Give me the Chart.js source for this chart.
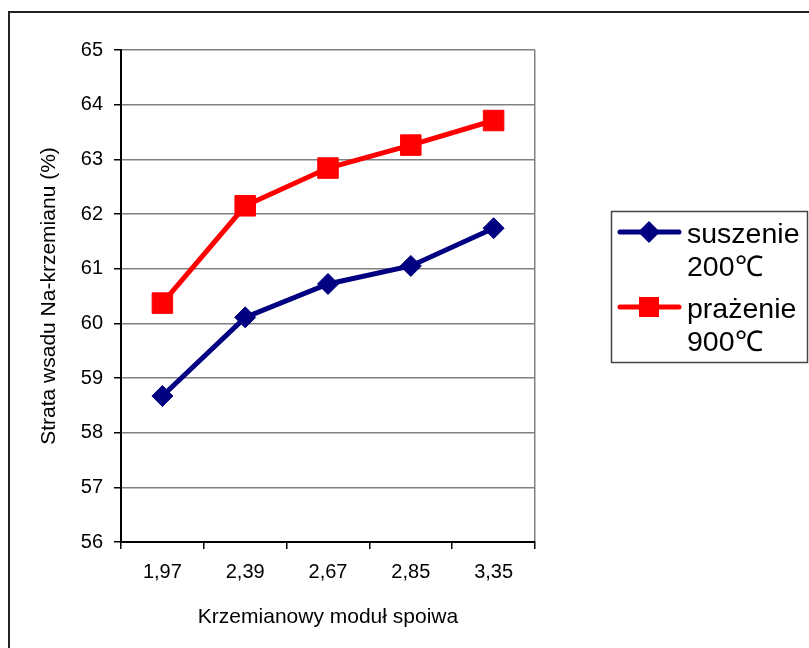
<!DOCTYPE html>
<html>
<head>
<meta charset="utf-8">
<script src="https://cdn.jsdelivr.net/npm/chart.js@4/dist/chart.umd.min.js"></script>
<style>
  html, body { margin: 0; padding: 0; background: #fff; }
  #wrap { width: 809px; height: 648px; position: relative; }
</style>
</head>
<body>
<div id="wrap"><canvas id="chart"></canvas></div>
<script>
// Chart data
const categories = ['1,97', '2,39', '2,67', '2,85', '3,35'];
const suszenie = [58.67, 60.11, 60.72, 61.05, 61.74];
const prazenie = [60.37, 62.15, 62.84, 63.26, 63.71];
const seriesLines = [['suszenie', '200\u2103'], ['prażenie', '900\u2103']];
const yMin = 56;
const yMax = 65;

const fontFamily = "'Liberation Sans', Arial, sans-serif";
const navy = '#000080';
const red = '#ff0000';
const gridGray = '#808080';

// outer frame, drawn before everything else
const framePlugin = {
  id: 'frame',
  beforeDraw(chart) {
    const ctx = chart.ctx;
    ctx.save();
    ctx.fillStyle = '#ffffff';
    ctx.fillRect(0, 0, chart.width, chart.height);
    ctx.strokeStyle = '#222';
    ctx.lineWidth = 2;
    ctx.strokeRect(9, 12, 900, 700);
    ctx.restore();
  }
};

function drawMarker(ctx, style, x, y, color) {
  ctx.fillStyle = color;
  ctx.beginPath();
  if (style === 'rectRot') {
    ctx.moveTo(x, y - 11);
    ctx.lineTo(x + 11, y);
    ctx.lineTo(x, y + 11);
    ctx.lineTo(x - 11, y);
  } else {
    ctx.rect(x - 10, y - 10, 20, 20);
  }
  ctx.closePath();
  ctx.fill();
}

// boxed legend on the right with two-line labels
const legendPlugin = {
  id: 'boxLegend',
  afterDraw(chart) {
    const ctx = chart.ctx;
    ctx.save();
    ctx.strokeStyle = '#444';
    ctx.lineWidth = 1.5;
    ctx.strokeRect(611.5, 211.5, 196, 151);
    chart.data.datasets.forEach((ds, i) => {
      const rowY = 232 + i * 75;
      ctx.strokeStyle = ds.borderColor;
      ctx.lineWidth = 5;
      ctx.lineCap = 'round';
      ctx.beginPath();
      ctx.moveTo(620, rowY);
      ctx.lineTo(679, rowY);
      ctx.stroke();
      drawMarker(ctx, ds.pointStyle, 649, rowY, ds.borderColor);
      ctx.fillStyle = '#000';
      ctx.font = '28.5px ' + fontFamily;
      ctx.textAlign = 'left';
      ctx.textBaseline = 'alphabetic';
      seriesLines[i].forEach((line, j) => {
        ctx.fillText(line, 687, rowY + 11 + j * 33);
      });
    });
    ctx.restore();
  }
};

new Chart(document.getElementById('chart'), {
  type: 'line',
  data: {
    labels: categories,
    datasets: [
      {
        label: seriesLines[0].join(' '),
        data: suszenie,
        borderColor: navy,
        backgroundColor: navy,
        borderWidth: 5,
        pointStyle: 'rectRot',
        pointRadius: 10.5,
        pointBorderWidth: 1,
        tension: 0
      },
      {
        label: seriesLines[1].join(' '),
        data: prazenie,
        borderColor: red,
        backgroundColor: red,
        borderWidth: 5,
        pointStyle: 'rect',
        pointRadius: 14.5,
        pointBorderWidth: 1,
        tension: 0
      }
    ]
  },
  options: {
    responsive: true,
    maintainAspectRatio: false,
    animation: false,
    layout: {
      padding: { left: 0, top: 50, right: 274, bottom: 0 }
    },
    plugins: {
      legend: { display: false },
      tooltip: { enabled: false }
    },
    scales: {
      x: {
        offset: true,
        grid: {
          offset: true,
          // only the closing line on the right of the plot is visible
          color: (ctx) => ctx.tick ? 'rgba(0,0,0,0)' : gridGray,
          tickColor: '#000',
          tickLength: 7,
          lineWidth: 1.5
        },
        border: { color: '#000', width: 2 },
        ticks: {
          color: '#000',
          padding: 11,
          font: { family: fontFamily, size: 20 }
        },
        title: {
          display: true,
          text: 'Krzemianowy moduł spoiwa',
          color: '#000',
          padding: { top: 0, bottom: 18 },
          font: { family: fontFamily, size: 21 }
        },
        afterFit(scale) { scale.height = 106; }
      },
      y: {
        min: yMin,
        max: yMax,
        grid: {
          color: gridGray,
          tickColor: '#000',
          tickLength: 7,
          lineWidth: 1.5
        },
        border: { color: '#000', width: 2 },
        ticks: {
          stepSize: 1,
          color: '#000',
          padding: 11,
          font: { family: fontFamily, size: 20 }
        },
        title: {
          display: true,
          text: 'Strata wsadu Na-krzemianu (%)',
          color: '#000',
          padding: { top: 37, bottom: 0 },
          font: { family: fontFamily, size: 21 }
        },
        afterFit(scale) { scale.width = 121; }
      }
    }
  },
  plugins: [framePlugin, legendPlugin]
});
</script>
</body>
</html>
